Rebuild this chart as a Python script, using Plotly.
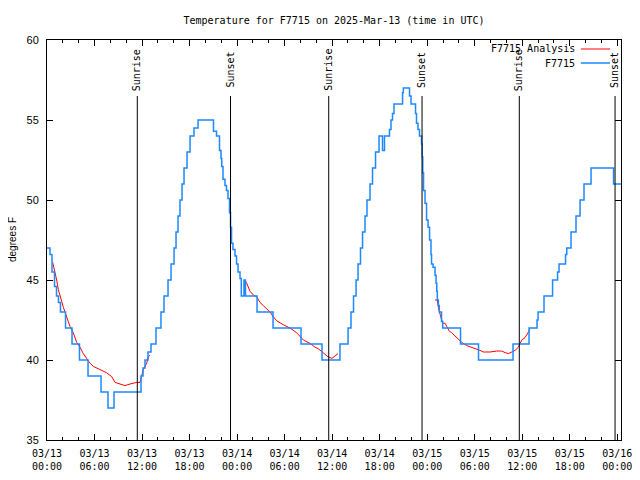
import pandas as pd
import plotly.graph_objects as go

BASE = pd.Timestamp("2025-03-13 00:00")

# F7715 observed temperature (hours since 03/13 00:00 UTC, degrees F), stepwise
obs_hours = [0.00, 0.38, 0.63, 0.95, 1.20, 1.45, 1.70, 2.34, 3.16, 4.10, 5.18, 6.82, 7.70, 8.46,
             11.87, 12.12, 12.37, 12.75, 13.13, 13.76, 14.39, 14.77, 15.28, 15.66, 16.04, 16.29,
             16.54, 16.79, 17.05, 17.30, 17.68, 18.06, 18.56, 19.07, 21.02, 21.40, 21.78, 21.97,
             22.06, 22.22, 22.47, 22.66, 22.85, 23.04, 23.17, 23.30, 23.48, 23.74, 23.93, 24.12,
             24.37, 24.53, 24.87, 25.06, 26.52, 28.54, 32.07, 34.72, 36.99, 38.01, 38.38, 38.70,
             39.02, 39.27, 39.58, 39.84, 40.15, 40.40, 40.78, 41.10, 41.48, 41.92, 42.36, 42.61,
             43.24, 43.43, 43.62, 43.81, 44.89, 44.99, 45.77, 45.96, 46.53, 46.65, 46.84, 47.03,
             47.29, 47.37, 47.44, 47.54, 47.73, 47.92, 48.11, 48.30, 48.48, 48.55, 48.74, 48.99,
             49.12, 49.21, 49.28, 49.41, 49.53, 49.81, 49.96, 52.21, 54.48, 58.84, 60.86, 61.87,
             62.00, 62.75, 63.83, 64.46, 64.65, 65.47, 65.62, 66.16, 66.79, 67.30, 67.80, 68.69,
             71.53, 72.47]
obs_temp = [47.0, 46.6, 45.5, 44.6, 44.0, 43.6, 43.0, 42.0, 41.0, 40.0, 39.0, 38.0, 37.0, 38.0,
            39.0, 39.5, 40.0, 40.5, 41.0, 42.0, 43.0, 44.0, 45.0, 46.0, 47.0, 48.0,
            49.0, 50.0, 51.0, 52.0, 53.0, 54.0, 54.5, 55.0, 54.3, 54.0, 53.1, 52.6,
            52.1, 51.3, 50.9, 50.6, 50.1, 49.2, 48.3, 47.3, 46.9, 46.5, 46.0, 45.5,
            45.1, 44.0, 45.0, 44.0, 43.0, 42.0, 41.0, 40.0, 41.0, 42.0, 43.0, 44.0,
            45.0, 46.0, 47.0, 48.0, 49.0, 50.0, 51.0, 52.0, 53.0, 54.0, 53.1, 54.0,
            54.4, 55.0, 55.4, 56.0, 56.7, 57.0, 56.5, 56.0, 55.4, 54.8, 54.4, 54.0,
            53.5, 52.7, 51.7, 50.6, 49.8, 48.75, 48.3, 47.5, 46.6, 46.0, 45.8, 45.3,
            44.8, 44.3, 43.75, 43.4, 43.0, 42.4, 42.0, 41.0, 40.0, 41.0, 42.0, 42.5,
            43.0, 44.0, 45.0, 45.5, 46.0, 46.6, 47.0, 48.0, 49.0, 50.0, 51.0, 52.0,
            51.0, 51.0]

# F7715 Analysis (three night-time segments, None = gap)
ana_hours = [0.72, 1.01, 1.22, 1.43, 1.64, 1.86, 2.06, 2.27, 2.49, 2.69, 2.90, 3.32, 3.75, 4.17,
             4.58, 5.01, 5.43, 5.85, 6.69, 7.54, 8.17, 8.59, 9.22, 9.85, 10.48, 11.33, 11.74,
             11.96, 12.16, 12.59, 12.79, 13.01, None,
             24.91, 25.21, 25.63, 26.05, 26.48, 26.89, 27.31, 27.74, 28.16, 28.57, 29.00, 29.84,
             30.68, 31.53, 32.36, 33.21, 33.84, 34.26, 34.72, 35.48, 35.98, 36.49, 36.74, None,
             48.99, 49.28, 49.41, 49.53, 49.71, 49.96, 50.25, 50.47, 50.80, 51.10, 51.52, 51.94,
             52.36, 52.99, 53.62, 54.26, 54.67, 55.09, 55.93, 56.78, 57.41, 57.83, 58.25, 58.67,
             59.09, 59.51, 59.94, 60.35, 60.78, 60.98]
ana_temp = [46.1, 45.5, 45.0, 44.4, 44.0, 43.75, 43.3, 43.0, 42.6, 42.4, 42.1, 41.7, 41.1, 40.8,
            40.4, 40.1, 39.8, 39.6, 39.4, 39.2, 38.96, 38.6, 38.5, 38.4, 38.5, 38.6, 38.6,
            39.0, 39.4, 39.8, 40.2, 40.3, None,
            45.0, 44.8, 44.3, 44.06, 43.95, 43.6, 43.4, 43.2, 43.0, 42.7, 42.45, 42.2,
            42.0, 41.7, 41.25, 41.04, 40.8, 40.7, 40.5, 40.2, 40.1, 40.3, 40.4, None,
            43.75, 43.75, 43.3, 43.0, 42.7, 42.3, 42.3, 42.1, 41.8, 41.7, 41.5, 41.25,
            41.1, 40.9, 40.8, 40.7, 40.6, 40.5, 40.5, 40.56, 40.56, 40.46, 40.4, 40.5,
            40.6, 40.8, 41.25, 41.4, 41.7, 41.9]

# Sun events (hours since 03/13 00:00 UTC)
sun_hours = [11.40, 23.17, 35.57, 47.35, 59.63, 71.72]
sun_labels = ["Sunrise", "Sunset", "Sunrise", "Sunset", "Sunrise", "Sunset"]

x_end_hours = 72.47
y_range = [35, 60]
y_ticks = [35, 40, 45, 50, 55, 60]


def to_time(hs):
    return [None if h is None else BASE + pd.Timedelta(hours=h) for h in hs]


RED = "#ff0000"
BLUE = "#1e88ff"
MONO = "DejaVu Sans Mono"
OFF = 8  # page body margin offset
L, T = 47 - OFF, 40 - OFF
PW, PH = 574, 400
R, B = 640 - L - PW, 480 - T - PH

fig = go.Figure()
fig.add_trace(go.Scatter(x=to_time(ana_hours), y=ana_temp, mode="lines", name="F7715 Analysis",
                         line=dict(color=RED, width=1), connectgaps=False, showlegend=False))
fig.add_trace(go.Scatter(x=to_time(obs_hours), y=obs_temp, mode="lines", name="F7715",
                         line=dict(color=BLUE, width=1.5, shape="hv"), showlegend=False))

for h, lab in zip(sun_hours, sun_labels):
    t = BASE + pd.Timedelta(hours=h)
    fig.add_shape(type="line", xref="x", yref="paper", x0=t, x1=t, y0=0, y1=0.86,
                  line=dict(color="black", width=1))
    fig.add_annotation(x=t, xref="x", y=0.925, yref="paper", text=lab, textangle=-90,
                       showarrow=False, font=dict(family=MONO, size=10, color="black"),
                       xanchor="center", yanchor="middle")

# legend (gnuplot style: text left of sample line)
for i, (name, col) in enumerate([("F7715 Analysis", RED), ("F7715", BLUE)]):
    yy = 0.9775 - i * 0.035
    fig.add_annotation(x=0.924, xref="paper", y=yy, yref="paper", text=name, showarrow=False,
                       xanchor="right", yanchor="middle",
                       font=dict(family=MONO, size=10, color="black"))
    fig.add_shape(type="line", xref="paper", yref="paper", x0=0.930, x1=0.981, y0=yy, y1=yy,
                  line=dict(color=col, width=1.5 if i else 1))

# y-axis title
fig.add_annotation(x=(12 - 47) / PW, xref="paper", y=0.5, yref="paper", text="degrees F",
                   textangle=-90, showarrow=False, xanchor="center", yanchor="middle",
                   font=dict(family="Liberation Sans", size=10, color="black"))

fig.update_layout(
    width=640, height=480,
    margin=dict(l=L, r=R, t=T, b=B, autoexpand=False),
    paper_bgcolor="white", plot_bgcolor="white",
    title=dict(text="Temperature for F7715 on 2025-Mar-13 (time in UTC)",
               x=(L + PW / 2) / 640, xanchor="center", y=1 - (20 - OFF) / 480, yanchor="middle",
               font=dict(family=MONO, size=10, color="black")),
    showlegend=False,
)
fig.update_xaxes(
    range=[BASE, BASE + pd.Timedelta(hours=x_end_hours)], automargin=False,
    tick0=BASE, dtick=6 * 3600 * 1000, tickformat="%m/%d<br>%H:%M",
    ticks="inside", ticklen=6, tickcolor="black", showline=True, linecolor="black",
    linewidth=1, mirror="ticks", showgrid=False, zeroline=False, ticklabelstandoff=4,
    tickfont=dict(family=MONO, size=10, color="black"),
    minor=dict(dtick=2 * 3600 * 1000, ticks="inside", ticklen=3, tickcolor="black", showgrid=False),
)
fig.update_yaxes(
    range=y_range, tickvals=y_ticks, ticks="inside", ticklen=6, tickcolor="black",
    automargin=False, ticklabelstandoff=5,
    showline=True, linecolor="black", linewidth=1, mirror="ticks", showgrid=False,
    zeroline=False, tickfont=dict(family="Liberation Sans", size=11, color="black"),
)

fig.write_html("out.html")
